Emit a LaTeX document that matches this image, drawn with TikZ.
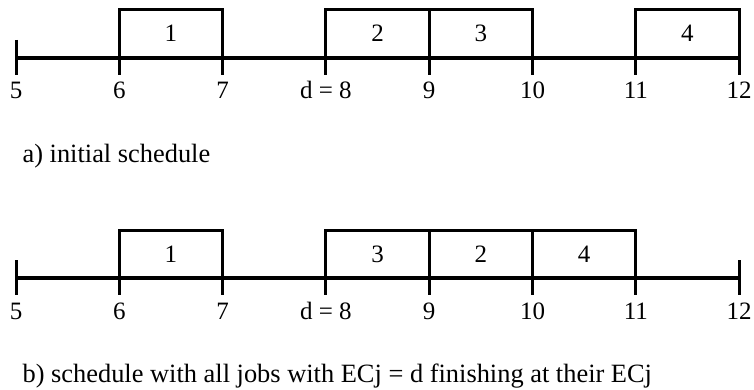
\documentclass[tikz,border=0pt]{standalone}
\usepackage{fontspec}
\setmainfont{Liberation Serif}
\tikzset{
  axis/.style={line width=2pt},
  tickmark/.style={line width=1.5pt},
  jobbox/.style={line width=1.5pt},
  timelabel/.style={anchor=base,inner sep=0pt,font=\fontsize{12.5}{15}\selectfont},
  jobnum/.style={anchor=base,inner sep=0pt,font=\fontsize{12.5}{15}\selectfont},
  caption/.style={anchor=base west,inner sep=0pt,font=\fontsize{13.2}{16}\selectfont}
}
\begin{document}
\begin{tikzpicture}[x=51.65pt,y=-0.5pt]
  \useasboundingbox (4.845,0) rectangle (12.144,389);
  % a) initial schedule
  \draw[jobbox] (6,10) rectangle (7,58);
  \draw[jobbox] (8,10) rectangle (9,58);
  \draw[jobbox] (9,10) rectangle (10,58);
  \draw[jobbox] (11,10) rectangle (12,58);
  \node[jobnum] (a1) at (6.5,42) {1};
  \node[jobnum] (a2) at (8.5,42) {2};
  \node[jobnum] (a3) at (9.5,42) {3};
  \node[jobnum] (a4) at (11.5,42) {4};
  \draw[axis] (5,58) -- (12,58);
  \draw[tickmark] (5,40) -- (5,75);
  \draw[tickmark] (12,40) -- (12,75);
  \foreach \t in {6,...,11}
    \draw[tickmark] (\t,58) -- (\t,75);
  \node[timelabel] (a5) at (5,99) {5};
  \node[timelabel] (a6) at (6,99) {6};
  \node[timelabel] (a7) at (7,99) {7};
  \node[timelabel] (a8) at (8,99) {d = 8};
  \node[timelabel] (a9) at (9,99) {9};
  \node[timelabel] (a10) at (10,99) {10};
  \node[timelabel] (a11) at (11,99) {11};
  \node[timelabel] (a12) at (12,99) {12};
  \node[caption] (capa) at (5.06,162) {a) initial schedule};
  % b) shifted schedule
  \begin{scope}[shift={(0,220)}]
    \draw[jobbox] (6,10) rectangle (7,58);
    \draw[jobbox] (8,10) rectangle (9,58);
    \draw[jobbox] (9,10) rectangle (10,58);
    \draw[jobbox] (10,10) rectangle (11,58);
    \node[jobnum] (b1) at (6.5,42) {1};
    \node[jobnum] (b3) at (8.5,42) {3};
    \node[jobnum] (b2) at (9.5,42) {2};
    \node[jobnum] (b4) at (10.5,42) {4};
    \draw[axis] (5,58) -- (12,58);
    \draw[tickmark] (5,40) -- (5,75);
    \draw[tickmark] (12,40) -- (12,75);
    \foreach \t in {6,...,11}
      \draw[tickmark] (\t,58) -- (\t,75);
    \node[timelabel] (b5) at (5,99) {5};
    \node[timelabel] (b6) at (6,99) {6};
    \node[timelabel] (b7) at (7,99) {7};
    \node[timelabel] (b8) at (8,99) {d = 8};
    \node[timelabel] (b9) at (9,99) {9};
    \node[timelabel] (b10) at (10,99) {10};
    \node[timelabel] (b11) at (11,99) {11};
    \node[timelabel] (b12) at (12,99) {12};
    \node[caption] (capb) at (5.06,162) {b) schedule with all jobs with ECj = d finishing at their ECj};
  \end{scope}
\end{tikzpicture}
\end{document}
